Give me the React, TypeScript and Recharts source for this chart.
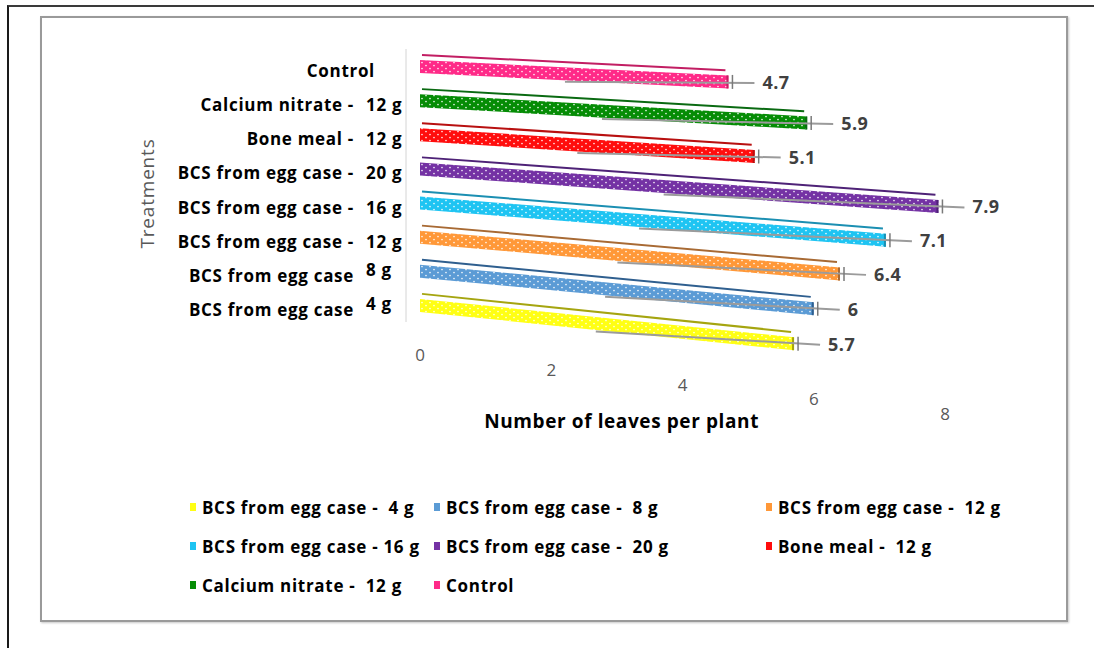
import { BarChart, Bar, XAxis, YAxis, Legend, Label } from "recharts";

// Treatments as printed on the vertical axis (top to bottom)
const treatments = [
  "Control",
  "Calcium nitrate -",
  "Bone meal -",
  "BCS from egg case -",
  "BCS from egg case -",
  "BCS from egg case -",
  "BCS from egg case",
  "BCS from egg case",
];
const doses = ["", "12 g", "12 g", "20 g", "16 g", "12 g", "8 g", "4 g"];

// Number of leaves per plant
const leaves = [4.7, 5.9, 5.1, 7.9, 7.1, 6.4, 6, 5.7];

// Legend names, same order as treatments
const legendNames = [
  "Control",
  "Calcium nitrate -  12 g",
  "Bone meal -  12 g",
  "BCS from egg case -  20 g",
  "BCS from egg case - 16 g",
  "BCS from egg case -  12 g",
  "BCS from egg case -  8 g",
  "BCS from egg case -  4 g",
];
const legendOrder = [7, 6, 5, 4, 3, 2, 1, 0];

const xTicks = [0, 2, 4, 6, 8];

// face colour and darker edge colour for each bar
const faceColors = ["#FF2A88", "#058C05", "#FF0D0D", "#7432A4", "#1EC4F2", "#FF9838", "#5B9BD5", "#FFFF14"];
const edgeColors = ["#C21E63", "#0A6A12", "#B81010", "#4E2277", "#1B8FB2", "#A86A34", "#2F5F8F", "#A5A510"];

const chartData = treatments.map((t, i) => ({
  key: `${t} ${doses[i]}`.trim(),
  leaves: leaves[i],
}));

const FONT = "'Open Sans', Lato, sans-serif";

// bar drawn slanted downward to fake the 3-D perspective of the original
function SlantedBar(props: any) {
  const { x, y, width, height, index, payload } = props;
  if (width == null || width <= 0) return null;
  const slope = 0.05 + index * 0.0075;
  const drop = width * slope;
  const pid = `dots-${index}`;
  const cy = y + height / 2;
  const endX = x + width;
  return (
    <g>
      <defs>
        <pattern id={pid} patternUnits="userSpaceOnUse" width={8} height={6}>
          <rect width={8} height={6} fill={faceColors[index]} />
          <circle cx={2} cy={1.5} r={0.85} fill="#ffffff" fillOpacity={0.9} />
          <circle cx={6} cy={4.5} r={0.85} fill="#ffffff" fillOpacity={0.9} />
        </pattern>
      </defs>
      <line
        x1={x + 2}
        y1={y - 5}
        x2={endX - 3}
        y2={y - 5 + drop - 3 * slope}
        stroke={edgeColors[index]}
        strokeWidth={2}
      />
      <polygon
        points={`${x},${y} ${endX},${y + drop} ${endX},${y + height + drop} ${x},${y + height}`}
        fill={`url(#${pid})`}
      />
      <line x1={endX - 1} y1={y + drop} x2={endX - 1} y2={y + height + drop} stroke={edgeColors[index]} strokeWidth={2} />
      {/* error whisker */}
      <line
        x1={x + width * 0.47}
        y1={cy + drop * 0.47 + 8}
        x2={endX + 26}
        y2={cy + drop + 1}
        stroke="#9b9b9b"
        strokeWidth={2}
      />
      <line x1={endX + 4} y1={cy + drop - 7} x2={endX + 4} y2={cy + drop + 7} stroke="#7a7a7a" strokeWidth={1.5} />
      <text
        x={endX + 34}
        y={cy + drop + 7}
        fontFamily={FONT}
        fontWeight={700}
        fontSize={18}
        letterSpacing={0.5}
        fill="#404040"
      >
        {payload.leaves}
      </text>
    </g>
  );
}

function YTick(props: any) {
  const { x, y, payload } = props;
  const i = chartData.findIndex((d) => d.key === payload.value);
  if (i < 0) return null;
  const raised = doses[i] === "8 g" || doses[i] === "4 g";
  if (!doses[i]) {
    return (
      <text
        x={x - 37}
        y={y + 11}
        textAnchor="end"
        fontFamily={FONT}
        fontWeight={700}
        fontSize={17}
        letterSpacing={0.7}
        fill="#000"
      >
        {treatments[i]}
      </text>
    );
  }
  return (
    <g fontFamily={FONT} fontWeight={700} fontSize={17} letterSpacing={0.7} fill="#000">
      <text x={x - 58} y={y + 11} textAnchor="end">
        {treatments[i]}
      </text>
      <text x={x - 46} y={raised ? y + 5 : y + 11} textAnchor="start">
        {doses[i]}
      </text>
    </g>
  );
}

function XTick(props: any) {
  const { x, y, payload } = props;
  return (
    <text x={x} y={y + 31 + payload.value * 7.4} textAnchor="middle" fontFamily={FONT} fontSize={17} fill="#595959">
      {payload.value}
    </text>
  );
}

function renderLegend() {
  return (
    <div
      style={{
        display: "grid",
        gridTemplateColumns: "244px 332px 300px",
        rowGap: 17,
        fontFamily: FONT,
        fontWeight: 700,
        fontSize: 17,
        letterSpacing: 0.7,
        color: "#000",
      }}
    >
      {legendOrder.map((i) => (
        <div key={i} style={{ display: "flex", alignItems: "center", height: 22 }}>
          <span style={{ display: "inline-block", width: 6, height: 8, background: faceColors[i], marginRight: 6 }} />
          <span style={{ whiteSpace: "pre" }}>{legendNames[i]}</span>
        </div>
      ))}
    </div>
  );
}

export default function App() {
  return (
    <div style={{ position: "absolute", left: 0, top: 0, width: 1094, height: 648, background: "#fff" }}>
      <div
        style={{
          position: "absolute",
          left: 7,
          top: 5,
          width: 1087,
          height: 643,
          borderLeft: "2px solid #1a1a1a",
          borderTop: "2px solid #3a3a3a",
        }}
      />
      <div
        style={{
          position: "absolute",
          left: 40,
          top: 16,
          width: 1024,
          height: 602,
          border: "2px solid #9a9a9a",
          boxShadow: "1px 1px 2px #c8c8c8",
        }}
      />
      <div style={{ position: "absolute", left: 40, top: 16 }}>
        <BarChart
          width={1027}
          height={605}
          data={chartData}
          layout="vertical"
          margin={{ top: 33, right: 122, bottom: 189, left: 90 }}
          barCategoryGap={0}
        >
          <XAxis
            type="number"
            domain={[0, 8]}
            ticks={xTicks}
            axisLine={false}
            tickLine={false}
            tick={<XTick />}
            height={110}
          >
            <Label
              content={(p: any) => {
                const vb = p.viewBox;
                return (
                  <text
                    x={vb.x + vb.width * 0.384}
                    y={vb.y + 106}
                    textAnchor="middle"
                    fontFamily={FONT}
                    fontWeight={700}
                    fontSize={19}
                    letterSpacing={0.6}
                    fill="#000"
                  >
                    Number of leaves per plant
                  </text>
                );
              }}
            />
          </XAxis>
          <YAxis
            type="category"
            dataKey="key"
            width={290}
            tickLine={false}
            axisLine={{ stroke: "#d4d4d4", transform: "translate(-14,0)" }}
            tick={<YTick />}
            interval={0}
          >
            <Label
              content={(p: any) => {
                const vb = p.viewBox;
                const cx = vb.x + 17;
                const cy = vb.y + vb.height / 2 + 8;
                return (
                  <text
                    x={cx}
                    y={cy}
                    transform={`rotate(-90 ${cx} ${cy})`}
                    textAnchor="middle"
                    dominantBaseline="central"
                    fontFamily={FONT}
                    fontSize={19}
                    letterSpacing={0.8}
                    fill="#595959"
                  >
                    Treatments
                  </text>
                );
              }}
            />
          </YAxis>
          <Legend
            content={renderLegend}
            layout="horizontal"
            verticalAlign="middle"
            align="center"
            wrapperStyle={{ left: 150, top: 480, width: 880 }}
          />
          <Bar dataKey="leaves" barSize={13} shape={<SlantedBar />} isAnimationActive={false} />
        </BarChart>
      </div>
    </div>
  );
}
